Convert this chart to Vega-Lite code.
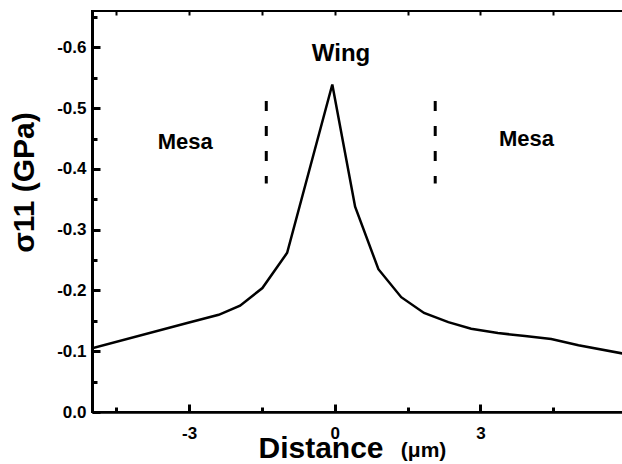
{
  "$schema": "https://vega.github.io/schema/vega-lite/v6.json",
  "width": 534,
  "height": 401,
  "autosize": {"type": "none"},
  "padding": {"left": 92, "top": 11, "right": 0, "bottom": 52},
  "background": "white",
  "config": {
    "view": {"stroke": "black", "strokeWidth": 2},
    "font": "Liberation Sans",
    "axis": {"grid": false, "domainColor": "black", "labelColor": "black", "titleColor": "black"}
  },
  "resolve": {"axis": {"x": "independent", "y": "independent"}},
  "layer": [
    {
      "data": {"values": [
        {"distance": -5.0, "s11": -0.105},
        {"distance": -3.02, "s11": -0.147},
        {"distance": -2.39, "s11": -0.160},
        {"distance": -1.95, "s11": -0.175},
        {"distance": -1.49, "s11": -0.204},
        {"distance": -0.98, "s11": -0.262},
        {"distance": -0.05, "s11": -0.539},
        {"distance": 0.42, "s11": -0.338},
        {"distance": 0.90, "s11": -0.235},
        {"distance": 1.37, "s11": -0.189},
        {"distance": 1.84, "s11": -0.163},
        {"distance": 2.34, "s11": -0.148},
        {"distance": 2.81, "s11": -0.137},
        {"distance": 3.36, "s11": -0.130},
        {"distance": 3.92, "s11": -0.125},
        {"distance": 4.46, "s11": -0.120},
        {"distance": 5.02, "s11": -0.110},
        {"distance": 5.95, "s11": -0.096}
      ]},
      "mark": {"type": "line", "color": "black", "strokeWidth": 2.5, "clip": true},
      "encoding": {
        "x": {
          "field": "distance", "type": "quantitative",
          "scale": {"domain": [-5, 6], "nice": false, "zero": false},
          "axis": {
            "orient": "bottom", "values": [-3, 0, 3],
            "labelExpr": "datum.value < 0 ? '-' + format(abs(datum.value), 'd') : format(datum.value, 'd')",
            "ticks": false, "tickSize": 0, "labelPadding": 13,
            "labelFontSize": 17, "labelFontWeight": "bold",
            "domainWidth": 2.5,
            "title": "Distance", "titleFontSize": 30, "titleFontWeight": "bold",
            "titleAlign": "left", "titleBaseline": "alphabetic", "titleX": 166, "titleY": 45
          }
        },
        "y": {
          "field": "s11", "type": "quantitative",
          "scale": {"domain": [-0.66, 0], "reverse": true, "nice": false, "zero": false},
          "axis": {
            "orient": "left", "values": [0, -0.1, -0.2, -0.3, -0.4, -0.5, -0.6],
            "labelExpr": "datum.value < 0 ? '-' + format(abs(datum.value), '.1f') : format(datum.value, '.1f')",
            "ticks": false, "tickSize": 0, "labelPadding": 6,
            "labelFontSize": 17, "labelFontWeight": "bold",
            "domainWidth": 3,
            "title": "σ11 (GPa)", "titleFontSize": 30, "titleFontWeight": "bold",
            "titleAngle": -90, "titleBaseline": "middle", "titleAlign": "center",
            "titleX": -68, "titleY": 171
          }
        }
      }
    },
    {
      "data": {"values": [{"pos": -1.41, "top": -0.512, "bottom": -0.376}]},
      "mark": {"type": "rule", "color": "black", "strokeWidth": 3, "strokeDash": [10, 15]},
      "encoding": {
        "x": {
          "field": "pos", "type": "quantitative",
          "axis": {
            "orient": "top", "offset": -401, "values": [-3, 0, 3], "ticks": true, "tickColor": "black",
            "labels": false, "domain": false, "tickSize": 8, "tickWidth": 3, "title": null
          }
        },
        "y": {"field": "top", "type": "quantitative", "axis": null},
        "y2": {"field": "bottom"}
      }
    },
    {
      "data": {"values": [{"pos": 2.07, "top": -0.512, "bottom": -0.376}]},
      "mark": {"type": "rule", "color": "black", "strokeWidth": 3, "strokeDash": [10, 15]},
      "encoding": {
        "x": {"field": "pos", "type": "quantitative", "axis": null},
        "y": {
          "field": "top", "type": "quantitative",
          "axis": {
            "orient": "right", "offset": -534, "values": [0, -0.1, -0.2, -0.3, -0.4, -0.5, -0.6], "ticks": true, "tickColor": "black",
            "labels": false, "domain": false, "tickSize": 8, "tickWidth": 3, "title": null
          }
        },
        "y2": {"field": "bottom"}
      }
    },
    {
      "data": {"values": [
        {"label": "Mesa", "pos": -3.08, "level": -0.433},
        {"label": "Mesa", "pos": 3.95, "level": -0.437}
      ]},
      "mark": {"type": "text", "fontWeight": "bold", "fontSize": 22, "align": "center", "baseline": "alphabetic", "color": "black"},
      "encoding": {
        "x": {"field": "pos", "type": "quantitative", "axis": null},
        "y": {
          "field": "level", "type": "quantitative",
          "axis": {
            "orient": "left", "values": [-0.05, -0.15, -0.25, -0.35, -0.45, -0.55, -0.65], "ticks": true, "tickColor": "black",
            "labels": false, "domain": false, "tickSize": -5, "tickWidth": 3, "title": null
          }
        },
        "text": {"field": "label"}
      }
    },
    {
      "data": {"values": [{"label": "Wing", "pos": 0.13, "level": -0.578}]},
      "mark": {"type": "text", "fontWeight": "bold", "fontSize": 24, "align": "center", "baseline": "alphabetic", "color": "black"},
      "encoding": {
        "x": {
          "field": "pos", "type": "quantitative",
          "axis": {
            "orient": "top", "values": [-4.5, -3, -1.5, 0, 1.5, 3, 4.5], "ticks": true, "tickColor": "black",
            "labels": false, "domain": false, "tickSize": -4, "tickWidth": 2, "title": null
          }
        },
        "y": {"field": "level", "type": "quantitative", "axis": null},
        "text": {"field": "label"}
      }
    },
    {
      "data": {"values": [{"label": "(μm)", "pos": 1.83, "level": 0}]},
      "mark": {"type": "text", "fontWeight": "bold", "fontSize": 21, "align": "center", "baseline": "alphabetic", "dy": 45, "color": "black"},
      "encoding": {
        "x": {
          "field": "pos", "type": "quantitative",
          "axis": {
            "orient": "bottom", "values": [-4.5, -1.5, 1.5, 4.5], "ticks": true, "tickColor": "black",
            "labels": false, "domain": false, "tickSize": -5, "tickWidth": 3, "title": null
          }
        },
        "y": {"field": "level", "type": "quantitative", "axis": null},
        "text": {"field": "label"}
      }
    }
  ]
}
